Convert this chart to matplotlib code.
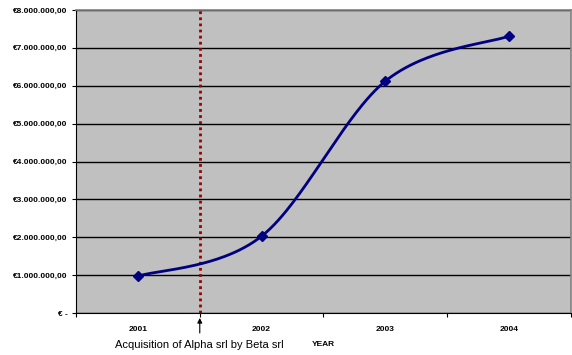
import numpy as np
import matplotlib
matplotlib.use("Agg")
import matplotlib.pyplot as plt
from matplotlib.ticker import FuncFormatter

years = ['2001', '2002', '2003', '2004']
revenue = [975000, 2030000, 6120000, 7310000]
event_label = 'Acquisition of Alpha srl by Beta srl'

plt.rcParams['font.family'] = ['Liberation Sans', 'DejaVu Sans']


def euro(v, pos):
    if v == 0:
        return '€ -'
    s = '{:,.2f}'.format(v)
    s = s.replace(',', 'X').replace('.', ',').replace('X', '.')
    return '€' + s


def smooth(xs, ys, n=60):
    # curva tipo Catmull-Rom come la linea "smussata" di Excel
    p = np.column_stack([xs, ys]).astype(float)
    p = np.vstack([p[0], p, p[-1]])
    out = []
    for i in range(1, len(p) - 2):
        p0, p1, p2, p3 = p[i - 1], p[i], p[i + 1], p[i + 2]
        t = np.linspace(0, 1, n)[:, None]
        c = 0.5 * ((2 * p1) + (-p0 + p2) * t + (2 * p0 - 5 * p1 + 4 * p2 - p3) * t ** 2
                   + (-p0 + 3 * p1 - 3 * p2 + p3) * t ** 3)
        out.append(c)
    c = np.vstack(out)
    return c[:, 0], c[:, 1]


fig = plt.figure(figsize=(5.72, 3.55), dpi=100)
ax = fig.add_axes([0.133, 0.118, 0.865, 0.854])
ax.set_facecolor('#c0c0c0')

x = np.arange(len(years))
sx, sy = smooth(x, revenue)
ax.plot(sx, sy, color='#000080', lw=2, zorder=3)
ax.plot(x, revenue, ls='none', marker='D', ms=5, color='#000080', zorder=4)

ax.axvline(0.5, color='#990000', lw=2, ls=(0, (1, 1.2)), zorder=2)

ax.set_xlim(-0.5, len(years) - 0.5)
ax.set_ylim(0, 8000000)
ax.set_yticks(np.arange(0, 8000001, 1000000))
ax.yaxis.set_major_formatter(FuncFormatter(euro))
ax.grid(axis='y', color='black', lw=1, zorder=1)
ax.set_axisbelow(True)

ax.set_xticks(np.arange(-0.5, len(years), 1.0))
ax.set_xticklabels([])
ax.set_xticks(x, minor=True)
ax.set_xticklabels(years, minor=True)
ax.tick_params(axis='x', which='minor', length=0, pad=9, labelsize=6)
ax.tick_params(axis='x', which='major', length=3, direction='out')
ax.tick_params(axis='y', length=3, direction='out', pad=3, labelsize=6)
for lab in ax.get_xticklabels(minor=True) + ax.get_yticklabels():
    lab.set_fontweight('bold')

for side in ['top', 'right']:
    ax.spines[side].set_color('#808080')
    ax.spines[side].set_linewidth(1.2)
for side in ['left', 'bottom']:
    ax.spines[side].set_color('black')

ax.set_xlabel('YEAR', fontsize=6, fontweight='bold', labelpad=6)

ax.annotate(event_label, xy=(0.5, -0.016), xycoords=('data', 'axes fraction'),
            xytext=(0.5, -0.105), textcoords=('data', 'axes fraction'),
            ha='center', va='center', fontsize=8,
            arrowprops=dict(arrowstyle='-|>', color='black', lw=0.8,
                            mutation_scale=7, shrinkA=3, shrinkB=0))

fig.savefig('out.png', dpi=100)
